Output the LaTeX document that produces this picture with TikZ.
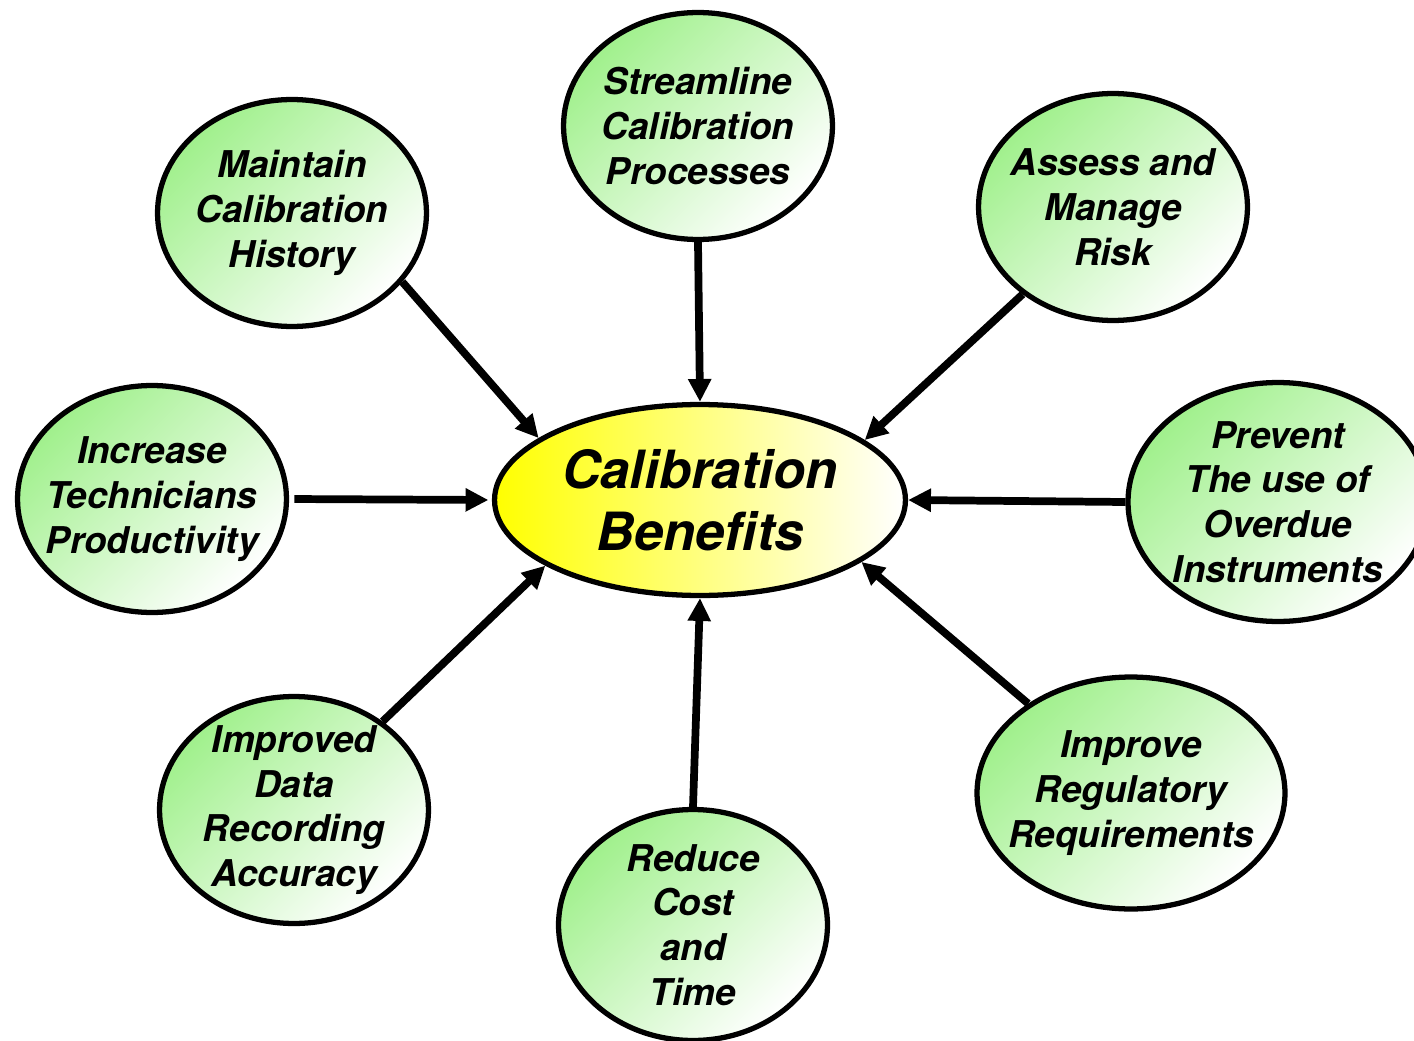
\documentclass[tikz,border=0pt]{standalone}
\usepackage{fontspec}
\setmainfont{TeX Gyre Heros}
\usetikzlibrary{arrows.meta,shapes.geometric}

\definecolor{bubblegreen}{RGB}{160,240,140}

\begin{document}
\begin{tikzpicture}[x=0.02cm,y=-0.02cm,>={Triangle[length=13pt,width=12.5pt]},
  bubble/.style={ellipse,draw,line width=3pt,inner sep=-14pt,align=center,
    top color=bubblegreen,bottom color=white,shading angle=45,
    minimum width=5.38cm,minimum height=4.54cm,
    font=\fontsize{21}{25.5}\selectfont\bfseries\itshape},
  hub/.style={ellipse,draw,line width=3pt,inner sep=-10pt,align=center,
    left color=yellow,middle color=yellow!22,right color=white,
    font=\fontsize{30}{35}\selectfont\bfseries\itshape},
  link/.style={->,line width=4.4pt}]

\useasboundingbox (0,0) rectangle (1414,1041);

% centre
\node[hub,minimum width=8.22cm,minimum height=3.82cm] (calib) at (700,500) {Calibration\\Benefits};

% benefits around it
\node[bubble] (stream) at (698,126) {Streamline\\Calibration\\Processes};
\node[bubble] (maint) at (292,213) {Maintain\\Calibration\\History};
\node[bubble] (assess) at (1113,207) {Assess and\\Manage\\Risk};
\node[bubble] (incr) at (152,499) {Increase\\Technicians\\Productivity};
\node[bubble,minimum width=6.0cm,minimum height=4.78cm] (prev) at (1278,502) {Prevent\\The use of\\Overdue\\Instruments};
\node[bubble] (impr) at (294,810) {Improved\\Data\\Recording\\Accuracy};
\node[bubble,minimum height=4.62cm] (reduce) at (693,925) {Reduce\\Cost\\and\\Time};
\node[bubble,minimum width=6.16cm,minimum height=4.64cm] (regul) at (1131,793) {Improve\\Regulatory\\Requirements};

% arrows into the centre
\draw[link] (maint.-32) -- (calib.159);
\draw[link] (stream.south) -- (calib.north);
\draw[link] (assess.224) -- (calib.20);
\draw[link,shorten <=3pt,shorten >=2pt] (incr.east) -- (calib.west);
\draw[link] (prev.west) -- (calib.east);
\draw[link] (impr.45) -- (calib.203);
\draw[link] (reduce.north) -- (calib.south);
\draw[link] (regul.139) -- (calib.339);

\end{tikzpicture}
\end{document}
